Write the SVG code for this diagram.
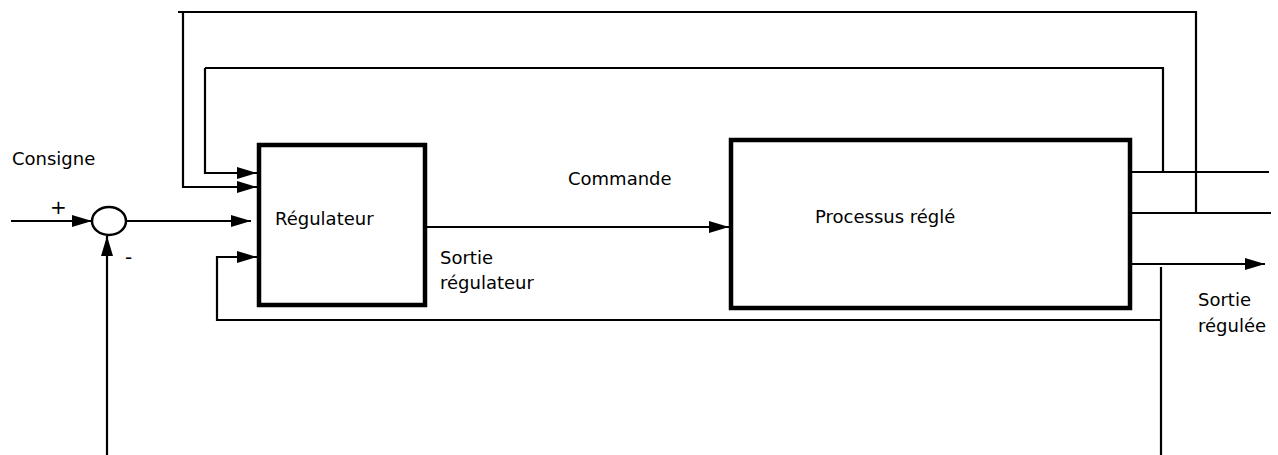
<svg xmlns="http://www.w3.org/2000/svg" width="1278" height="455" viewBox="0 0 1278 455">
  <style>
    .wire { fill: none; stroke: #000; stroke-width: 2.2; }
    .box { fill: #fff; stroke: #000; stroke-width: 4.5; }
    .label { font-family: "DejaVu Sans", Verdana, sans-serif; font-size: 18px; fill: #000; }
    .sign { font-family: "DejaVu Sans", Verdana, sans-serif; font-size: 20px; fill: #000; }
  </style>
  <defs>
    <marker id="arrow" viewBox="0 0 20 12" refX="20" refY="6" markerWidth="20" markerHeight="12" markerUnits="userSpaceOnUse" orient="auto">
      <path d="M0,0 L20,6 L0,12 Z" fill="#000"/>
    </marker>
  </defs>
  <rect width="1278" height="455" fill="#fff"/>

  <!-- signal lines -->
  <g id="connectors">
    <!-- setpoint into the summing junction -->
    <path class="wire" d="M11,221 H92" marker-end="url(#arrow)"/>
    <!-- measured value into the summing junction -->
    <path class="wire" d="M107,455 V236" marker-end="url(#arrow)"/>
    <!-- error into the controller -->
    <path class="wire" d="M126,221 H251" marker-end="url(#arrow)"/>
    <!-- outer loop from the process outputs -->
    <path class="wire" d="M178,12 H1196 V213"/>
    <path class="wire" d="M183,12 V187 H257" marker-end="url(#arrow)"/>
    <!-- inner loop -->
    <path class="wire" d="M205,68 H1163 V172"/>
    <path class="wire" d="M205,68 V173 H257" marker-end="url(#arrow)"/>
    <!-- controller feedback from output -->
    <path class="wire" d="M1161,455 V267"/>
    <path class="wire" d="M1161,320 H217 V257 H257" marker-end="url(#arrow)"/>
    <!-- command to the process -->
    <path class="wire" d="M427,227 H729" marker-end="url(#arrow)"/>
    <!-- process outputs -->
    <path class="wire" d="M1132,172 H1269"/>
    <path class="wire" d="M1132,213 H1271"/>
    <path class="wire" d="M1132,264 H1265" marker-end="url(#arrow)"/>
  </g>

  <g id="summing-junction">
    <ellipse cx="109" cy="221" rx="17" ry="14" fill="#fff" stroke="#000" stroke-width="2.5"/>
    <text class="sign" x="50" y="214">+</text>
    <text class="sign" x="125" y="264">-</text>
  </g>

  <g id="consigne">
    <text class="label" x="12" y="165">Consigne</text>
  </g>

  <g id="regulateur">
    <rect class="box" x="259" y="145" width="166" height="160"/>
    <text class="label" x="275" y="225">Régulateur</text>
  </g>

  <g id="commande">
    <text class="label" x="568" y="185">Commande</text>
  </g>

  <g id="sortie-regulateur">
    <text class="label" x="440" y="264">Sortie</text>
    <text class="label" x="440" y="289">régulateur</text>
  </g>

  <g id="processus">
    <rect class="box" x="731" y="140" width="399" height="168"/>
    <text class="label" x="815" y="223">Processus réglé</text>
  </g>

  <g id="sortie-regulee">
    <text class="label" x="1198" y="306">Sortie</text>
    <text class="label" x="1198" y="332">régulée</text>
  </g>
</svg>
